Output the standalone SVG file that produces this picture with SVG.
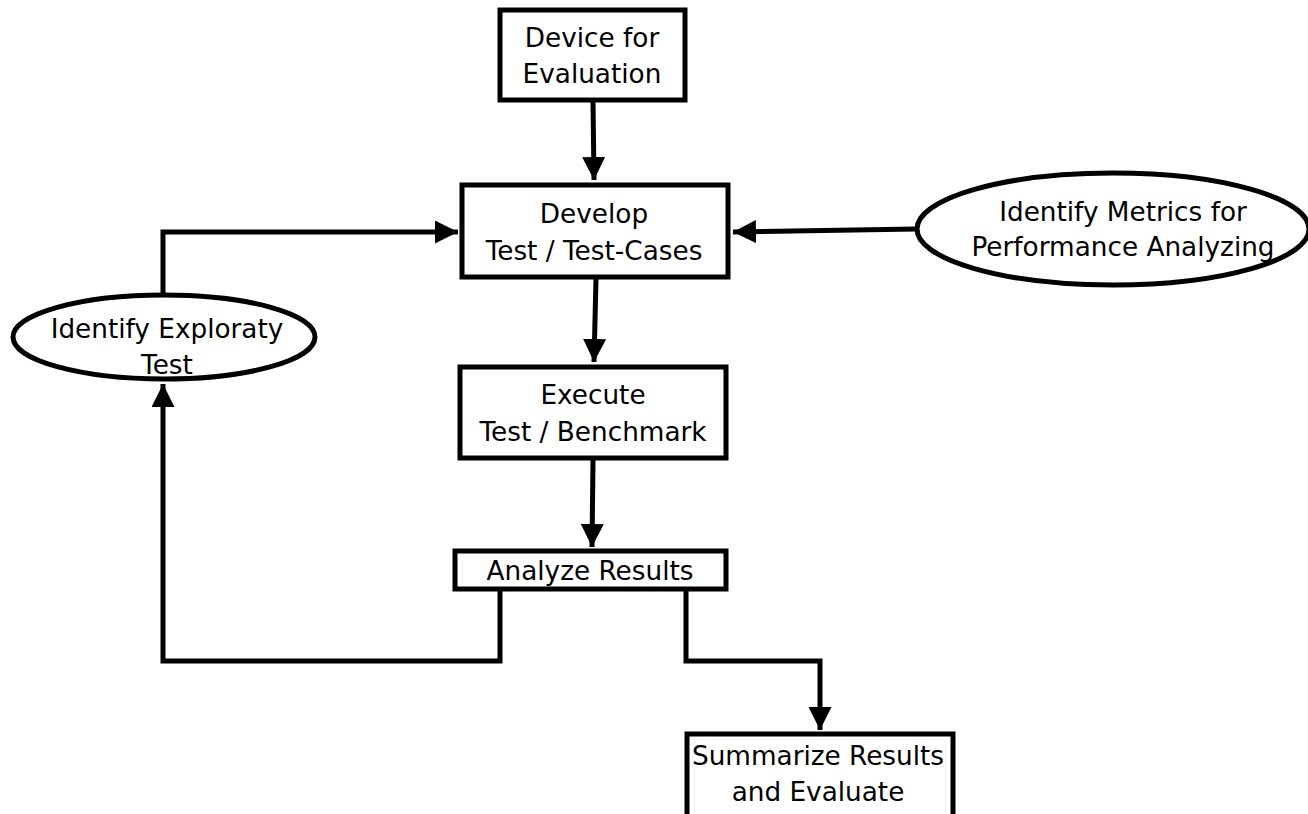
<svg xmlns="http://www.w3.org/2000/svg" width="1308" height="814" viewBox="0 0 1308 814">
<defs>
<marker id="ah" viewBox="0 0 10 10" refX="10" refY="5" markerWidth="4.6" markerHeight="4.6" markerUnits="strokeWidth" orient="auto">
<path d="M0,0 L10,5 L0,10 Z" fill="#000"/>
</marker>
</defs>
<style>
.box{fill:#fff;stroke:#000;stroke-width:5}
.t{font-family:"DejaVu Sans",sans-serif;font-size:26.3px;fill:#000;text-anchor:middle}
.c{fill:none;stroke:#000;stroke-width:5;marker-end:url(#ah)}
</style>
<rect width="1308" height="814" fill="#fff"/>
<g id="connectors">
<path class="c" d="M593,102 L594,180"/>
<path class="c" d="M916,229 L733,232"/>
<path class="c" d="M163,295 L163,232 L458,232"/>
<path class="c" d="M596,279 L594,362"/>
<path class="c" d="M593,460 L592,547"/>
<path class="c" d="M500,589 L500,661 L163,661 L163,384"/>
<path class="c" d="M686,589 L686,661 L820,661 L820,730"/>
</g>
<g id="device">
<rect class="box" x="500" y="10" width="185" height="90"/>
<text class="t" x="592" y="47">Device for</text>
<text class="t" x="592" y="83">Evaluation</text>
</g>
<g id="develop">
<rect class="box" x="462" y="185" width="266" height="92"/>
<text class="t" x="594" y="223">Develop</text>
<text class="t" x="594" y="260">Test / Test-Cases</text>
</g>
<g id="metrics">
<ellipse class="box" cx="1113" cy="229" rx="196" ry="56"/>
<text class="t" x="1123" y="221">Identify Metrics for</text>
<text class="t" x="1123" y="256">Performance Analyzing</text>
</g>
<g id="exploratory">
<ellipse class="box" cx="164" cy="337" rx="151" ry="42"/>
<text class="t" x="167" y="338">Identify Exploraty</text>
<text class="t" x="167" y="374">Test</text>
</g>
<g id="execute">
<rect class="box" x="460" y="367" width="266" height="91"/>
<text class="t" x="593" y="404">Execute</text>
<text class="t" x="593" y="441">Test / Benchmark</text>
</g>
<g id="analyze">
<rect class="box" x="455" y="551" width="271" height="38"/>
<text class="t" x="590" y="580">Analyze Results</text>
</g>
<g id="summarize">
<rect class="box" x="687" y="734" width="266" height="100"/>
<text class="t" x="818" y="765">Summarize Results</text>
<text class="t" x="818" y="801">and Evaluate</text>
</g>
</svg>
